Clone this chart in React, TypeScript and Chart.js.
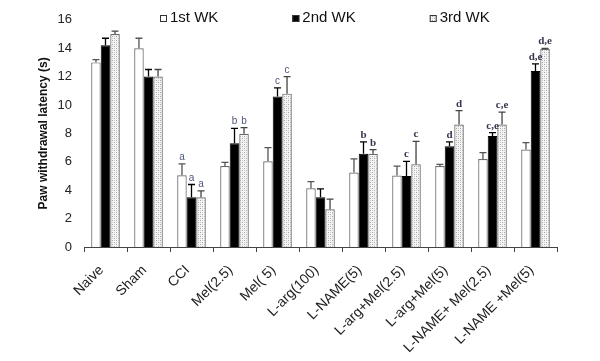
import React, { useEffect, useRef } from "react";
import { Chart, registerables } from "chart.js";

Chart.register(...registerables);

const categories = [
  "Naive",
  "Sham",
  "CCI",
  "Mel(2.5)",
  "Mel( 5)",
  "L-arg(100)",
  "L-NAME(5)",
  "L-arg+Mel(2.5)",
  "L-arg+Mel(5)",
  "L-NAME+ Mel(2.5)",
  "L-NAME +Mel(5)",
];
const seriesLabels = ["1st WK", "2nd WK", "3rd WK"];

const week1 = [13.0, 14.0, 5.05, 5.7, 6.03, 4.14, 5.24, 5.03, 5.7, 6.2, 6.86];
const week1Err = [0.2, 0.7, 0.8, 0.26, 0.97, 0.46, 0.96, 0.67, 0.12, 0.45, 0.49];
const week2 = [14.2, 12.0, 3.5, 7.3, 10.6, 3.5, 6.57, 5.0, 7.09, 7.81, 12.4];
const week2Err = [0.5, 0.5, 0.9, 1.05, 0.6, 0.6, 0.83, 1.03, 0.31, 0.24, 0.5];
const week3 = [15.0, 12.0, 3.5, 7.98, 10.8, 2.65, 6.57, 5.82, 8.63, 8.63, 13.94];
const week3Err = [0.2, 0.5, 0.45, 0.42, 1.2, 0.72, 0.29, 1.62, 0.97, 0.87, 0.05];

const week1Marks = ["", "", "a", "", "", "", "", "", "", "", ""];
const week2Marks = ["", "", "a", "b", "c", "", "b", "c", "d", "c,e", "d,e"];
const week3Marks = ["", "", "a", "b", "c", "", "b", "c", "d", "c,e", "d,e"];

const yTicks = [0, 2, 4, 6, 8, 10, 12, 14, 16];

function makePattern(): CanvasPattern | string {
  const c = document.createElement("canvas");
  c.width = 4;
  c.height = 4;
  const g = c.getContext("2d");
  if (!g) return "#ddd";
  g.fillStyle = "#f4f4f4";
  g.fillRect(0, 0, 4, 4);
  g.fillStyle = "#a8a8a8";
  g.fillRect(0, 0, 1, 1);
  g.fillRect(2, 2, 1, 1);
  g.fillStyle = "#cfcfcf";
  g.fillRect(2, 0, 1, 1);
  g.fillRect(0, 2, 1, 1);
  const p = g.createPattern(c, "repeat");
  return p || "#ddd";
}

export default function App() {
  const ref = useRef<HTMLCanvasElement | null>(null);

  useEffect(() => {
    const canvas = ref.current;
    if (!canvas) return;
    const errs = [week1Err, week2Err, week3Err];
    const marks = [week1Marks, week2Marks, week3Marks];
    const errColors = ["#555", "#000", "#444"];

    const errorBars = {
      id: "errorBars",
      afterDatasetsDraw(chart: any) {
        const ctx = chart.ctx;
        const y = chart.scales.y;
        ctx.save();
        chart.data.datasets.forEach((ds: any, di: number) => {
          const meta = chart.getDatasetMeta(di);
          meta.data.forEach((bar: any, i: number) => {
            const v = ds.data[i];
            const top = y.getPixelForValue(v + errs[di][i]);
            const x = bar.x;
            ctx.strokeStyle = errColors[di];
            ctx.lineWidth = 1.3;
            ctx.beginPath();
            ctx.moveTo(x, bar.y);
            ctx.lineTo(x, top);
            ctx.moveTo(x - 3.5, top);
            ctx.lineTo(x + 3.5, top);
            ctx.stroke();
            const m = marks[di][i];
            if (m) {
              const serif = i >= 6;
              ctx.font = serif
                ? "bold 11px 'Liberation Serif'"
                : "10px 'Liberation Sans'";
              ctx.fillStyle = serif ? "#3b3550" : "#4a5678";
              ctx.textAlign = "center";
              ctx.textBaseline = "alphabetic";
              ctx.fillText(m, x, top - 4);
            }
          });
        });
        ctx.restore();
      },
    };

    const legendPlugin = {
      id: "customLegend",
      afterDraw(chart: any) {
        const ctx = chart.ctx;
        const area = chart.chartArea;
        ctx.save();
        ctx.font = "15px 'Liberation Sans'";
        ctx.textBaseline = "alphabetic";
        ctx.textAlign = "left";
        let x = area.left + 76;
        const base = 22;
        chart.data.datasets.forEach((ds: any) => {
          ctx.fillStyle = ds.backgroundColor;
          ctx.fillRect(x, base - 7, 7, 7);
          ctx.strokeStyle = "#333";
          ctx.lineWidth = 1;
          ctx.strokeRect(x + 0.5, base - 7 + 0.5, 6, 6);
          ctx.fillStyle = "#111";
          ctx.fillText(ds.label, x + 10, base);
          x += 10 + ctx.measureText(ds.label).width + 74;
        });
        ctx.restore();
      },
    };

    const chart = new Chart(canvas, {
      type: "bar",
      data: {
        labels: categories,
        datasets: [
          {
            label: seriesLabels[0],
            data: week1,
            backgroundColor: "#ffffff",
            borderColor: "#6a6a6a",
            borderWidth: 1.2,
          },
          {
            label: seriesLabels[1],
            data: week2,
            backgroundColor: "#000000",
            borderColor: "#000000",
            borderWidth: 1,
          },
          {
            label: seriesLabels[2],
            data: week3,
            backgroundColor: makePattern() as any,
            borderColor: "#6a6a6a",
            borderWidth: 1.2,
          },
        ],
      },
      options: {
        responsive: false,
        animation: false,
        events: [],
        layout: { padding: { left: 0, right: 43, top: 19, bottom: 0 } },
        datasets: {
          bar: { categoryPercentage: 0.665, barPercentage: 1.0 },
        },
        plugins: {
          legend: { display: false },
          tooltip: { enabled: false },
        },
        scales: {
          x: {
            grid: {
              display: true,
              drawOnChartArea: false,
              drawTicks: true,
              tickLength: 5,
              color: "#444",
              offset: true,
            },
            border: { display: true, color: "#444", width: 1 },
            ticks: {
              autoSkip: false,
              maxRotation: 45,
              minRotation: 45,
              padding: 10,
              labelOffset: -4,
              color: "#222",
              font: { family: "'Liberation Sans'", size: 14 },
            },
            afterFit(scale: any) {
              scale.height = 114;
            },
          },
          y: {
            min: 0,
            max: 16,
            afterBuildTicks(scale: any) {
              scale.ticks = yTicks.map((v) => ({ value: v }));
            },
            grid: { display: false, drawTicks: false },
            border: { display: false },
            ticks: {
              padding: 12,
              color: "#222",
              font: { family: "'Liberation Sans'", size: 13 },
            },
            title: {
              display: true,
              text: "Paw withdrawal latency (s)",
              color: "#111",
              font: { family: "'Liberation Sans'", size: 12, weight: "bold" },
              padding: { top: 36, bottom: 0 },
            },
            afterFit(scale: any) {
              scale.width = 84;
            },
          },
        },
      },
      plugins: [errorBars, legendPlugin],
    });
    return () => chart.destroy();
  }, []);

  return (
    <div
      style={{
        position: "fixed",
        left: 0,
        top: 0,
        width: 600,
        height: 361,
        background: "#fff",
      }}
    >
      <canvas ref={ref} width={600} height={361} />
    </div>
  );
}
